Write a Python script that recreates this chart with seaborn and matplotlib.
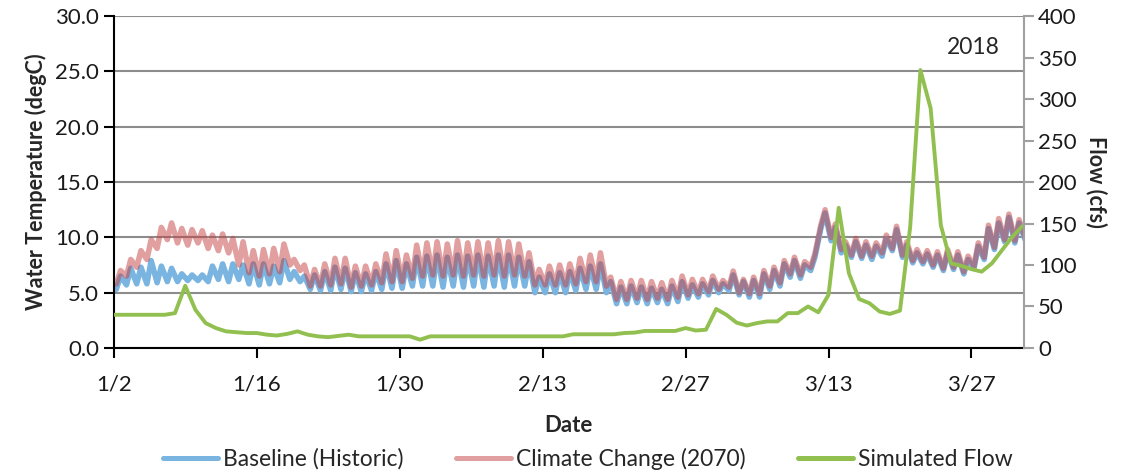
import numpy as np
import pandas as pd
import matplotlib.pyplot as plt
from matplotlib.lines import Line2D
import seaborn as sns

# daily low / high water temperature (degC), 1/2/2018 .. 4/1/2018
base_lo = [5.3, 5.7, 5.8, 5.8, 5.9, 6.0, 6.0, 6.1, 6.1, 6.0,
           6.2, 6.0, 6.2, 5.8, 5.7, 5.8, 5.9, 6.2, 6.0, 5.3,
           5.2, 5.2, 5.3, 5.1, 5.1, 5.2, 5.3, 5.4, 5.4, 5.6,
           5.6, 5.6, 5.5, 5.6, 5.5, 5.6, 5.5, 5.6, 5.5, 5.6,
           5.6, 5.0, 5.0, 5.0, 5.0, 5.2, 5.3, 5.3, 5.0, 4.0,
           4.0, 4.1, 4.0, 4.1, 4.0, 4.2, 4.5, 4.6, 4.8, 5.0,
           5.2, 4.8, 4.6, 4.6, 5.3, 5.6, 6.4, 6.3, 7.0, 10.8,
           9.7, 8.6, 8.2, 8.1, 8.0, 8.3, 8.8, 8.2, 7.7, 7.6,
           7.3, 7.0, 7.1, 6.7, 7.2, 8.0, 8.9, 9.6, 9.5, 9.8]
base_hi = [6.5, 7.2, 7.3, 7.9, 7.4, 7.2, 6.7, 6.6, 6.6, 7.4,
           7.6, 7.6, 7.5, 7.6, 7.6, 7.4, 7.9, 6.9, 6.5, 6.6,
           6.9, 7.3, 7.2, 6.8, 6.7, 6.9, 7.6, 7.9, 7.6, 8.2,
           8.3, 8.4, 8.2, 8.4, 8.3, 8.4, 8.3, 8.4, 8.4, 8.2,
           7.8, 6.4, 6.7, 6.8, 6.9, 7.2, 7.4, 7.6, 6.0, 5.5,
           5.6, 5.5, 5.4, 5.3, 5.6, 6.0, 5.7, 5.8, 6.1, 5.8,
           6.6, 6.0, 6.1, 6.7, 7.0, 7.6, 7.9, 7.5, 8.2, 12.2,
           10.9, 9.3, 9.6, 9.3, 9.2, 9.9, 10.7, 9.3, 8.6, 8.5,
           8.4, 8.6, 8.4, 8.0, 9.2, 10.8, 11.3, 11.8, 11.3, 11.0]
cc_lo = [5.8, 6.5, 7.3, 8.0, 9.0, 9.8, 9.5, 9.3, 9.5, 9.0,
         8.8, 8.6, 7.5, 6.8, 6.5, 6.7, 6.9, 7.5, 7.0, 5.6,
         5.6, 5.7, 5.8, 5.5, 5.6, 5.7, 5.9, 6.0, 6.0, 6.3,
         6.5, 6.6, 6.5, 6.6, 6.5, 6.6, 6.5, 6.6, 6.5, 6.6,
         6.5, 5.7, 5.7, 5.7, 5.7, 5.8, 6.0, 6.0, 5.6, 4.4,
         4.4, 4.5, 4.4, 4.5, 4.4, 4.6, 4.8, 4.9, 5.1, 5.3,
         5.5, 5.0, 4.9, 4.9, 5.6, 5.9, 6.7, 6.6, 7.3, 11.1,
         10.0, 8.9, 8.4, 8.3, 8.3, 8.6, 9.0, 8.4, 7.9, 7.8,
         7.5, 7.2, 7.3, 6.9, 7.4, 8.2, 9.1, 9.8, 9.7, 10.0]
cc_hi = [7.0, 8.0, 8.8, 9.8, 10.9, 11.3, 10.8, 10.7, 10.6, 10.2,
         10.3, 9.9, 9.6, 8.8, 8.9, 9.0, 9.4, 8.0, 7.5, 7.1,
         7.6, 8.1, 8.1, 7.4, 7.4, 7.6, 8.5, 8.8, 8.4, 9.3,
         9.5, 9.6, 9.4, 9.7, 9.5, 9.6, 9.5, 9.7, 9.6, 9.4,
         8.6, 7.1, 7.4, 7.5, 7.6, 8.1, 8.4, 8.6, 6.4, 6.0,
         6.1, 6.1, 6.0, 5.9, 6.1, 6.5, 6.2, 6.2, 6.5, 6.1,
         6.95, 6.2, 6.4, 7.0, 7.3, 7.9, 8.2, 7.8, 8.5, 12.5,
         11.2, 9.6, 9.9, 9.6, 9.5, 10.2, 11.0, 9.6, 8.9, 8.8,
         8.7, 8.9, 8.7, 8.3, 9.5, 11.1, 11.7, 12.1, 11.6, 11.3]

# simulated daily flow (cfs)
flow = [40, 40, 40, 40, 40, 40, 42, 75, 46, 30,
        24, 20, 19, 18, 18, 16, 15, 17, 20, 16,
        14, 13, 14.5, 16, 14, 14, 14, 14, 14, 14,
        10, 14, 14, 14, 14, 14, 14, 14, 14, 14,
        14, 14, 14, 14, 14, 16.5, 16.5, 16.5, 16.5, 16.5,
        18, 18.5, 20.5, 20.5, 20.5, 20.5, 24, 21, 22, 47,
        40, 30.5, 27, 30, 32, 32, 42, 42, 50, 43,
        64, 169, 90, 59, 54, 44, 41, 45, 146, 335,
        289, 148, 102, 99, 95, 92, 102, 118, 134, 147]

xtick_labels = ['1/2', '1/16', '1/30', '2/13', '2/27', '3/13', '3/27']

start = pd.Timestamp('2018-01-02')
days = start + pd.to_timedelta(np.arange(len(flow)), unit='D')

# two readings per day: morning low, afternoon high
def diurnal(lo, hi):
    t, v = [], []
    for d, a, b in zip(days, lo, hi):
        t += [d + pd.Timedelta(hours=6), d + pd.Timedelta(hours=16)]
        v += [a, b]
    return pd.DataFrame({'time': t, 'temp': v})

base_df = diurnal(base_lo, base_hi)
cc_df = diurnal(cc_lo, cc_hi)
flow_df = pd.DataFrame({'time': days, 'flow': flow})

sns.set_style('white')
plt.rcParams['font.family'] = ['Lato', 'DejaVu Sans']

blue = '#7AB4E1'
red = '#C44040'
green = '#92C050'

fig = plt.figure(figsize=(11.26, 4.76), dpi=100)
ax = fig.add_axes([0.101, 0.269, 0.808, 0.697])
ax2 = ax.twinx()

sns.lineplot(data=base_df, x='time', y='temp', ax=ax, color=blue, lw=4.0,
             estimator=None, solid_joinstyle='round')
sns.lineplot(data=cc_df, x='time', y='temp', ax=ax, color=red, alpha=0.5, lw=4.0,
             estimator=None, solid_joinstyle='round')
sns.lineplot(data=flow_df, x='time', y='flow', ax=ax2, color=green, lw=2.8, estimator=None)

ax.set_ylim(0, 30)
ax.set_yticks(np.arange(0, 31, 5))
ax.set_yticklabels([f'{v:.1f}' for v in np.arange(0, 31, 5)])
ax.yaxis.grid(True, color='#8c8c8c', lw=1.5)
ax.set_axisbelow(True)
ax2.set_ylim(0, 400)
ax2.set_yticks(np.arange(0, 401, 50))

ax.set_xlim(start, start + pd.Timedelta(days=89.1))
ticks = start + pd.to_timedelta(np.arange(0, 7) * 14, unit='D')
ax.set_xticks(ticks)
ax.set_xticklabels(xtick_labels)

for s in ['left', 'bottom']:
    ax.spines[s].set_color('black')
    ax.spines[s].set_linewidth(1.5)
ax.spines['top'].set_visible(False)
ax.spines['right'].set_visible(False)
for s in ['left', 'bottom', 'top']:
    ax2.spines[s].set_visible(False)
ax2.spines['right'].set_color('#a0a0a0')
ax2.spines['right'].set_linewidth(1.5)

ax.tick_params(axis='both', direction='out', length=7, width=1.5, color='black',
               labelsize=16, labelcolor='#1a1a1a', left=True, bottom=True)
ax.tick_params(axis='x', pad=12)
ax2.tick_params(axis='y', direction='out', length=7, width=1.5, color='#a0a0a0',
                labelsize=16, labelcolor='#1a1a1a', right=True)

ax.set_xlabel('Date', fontsize=16, fontweight='bold', labelpad=15)
ax.set_ylabel('Water Temperature (degC)', fontsize=15.5, fontweight='bold', labelpad=6)
ax2.set_ylabel('Flow (cfs)', fontsize=15.5, fontweight='bold', rotation=270, labelpad=22)

ax.text(0.945, 0.905, '2018', transform=ax.transAxes, fontsize=16.5, ha='center', va='center')

handles = [Line2D([], [], color=blue, lw=3.6),
           Line2D([], [], color=red, alpha=0.5, lw=3.6),
           Line2D([], [], color=green, lw=3.6)]
labels = ['Baseline (Historic)', 'Climate Change (2070)', 'Simulated Flow']
fig.legend(handles, labels, loc='center', bbox_to_anchor=(0.522, 0.036), ncol=3,
           frameon=False, fontsize=16.5, handlelength=2.4, handletextpad=0.2, columnspacing=2.3)

fig.savefig('out.png', dpi=100)
